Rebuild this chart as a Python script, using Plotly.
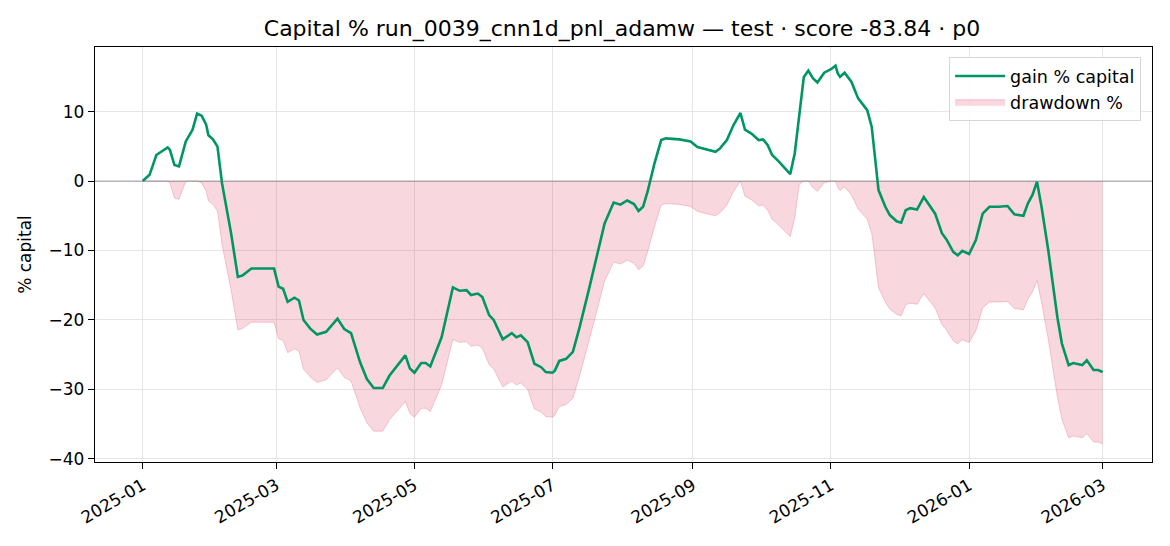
import numpy as np
import pandas as pd
import plotly.graph_objects as go

# ---- data ----
dates = [
    "2025-01-01", "2025-01-04", "2025-01-07", "2025-01-09", "2025-01-12", "2025-01-13",
    "2025-01-15", "2025-01-17", "2025-01-20", "2025-01-23", "2025-01-25", "2025-01-27",
    "2025-01-29", "2025-01-30", "2025-02-01", "2025-02-03", "2025-02-05", "2025-02-09",
    "2025-02-12", "2025-02-14", "2025-02-18", "2025-02-23", "2025-02-28", "2025-03-02",
    "2025-03-04", "2025-03-06", "2025-03-09", "2025-03-11", "2025-03-13", "2025-03-16",
    "2025-03-19", "2025-03-23", "2025-03-28", "2025-03-31", "2025-04-03", "2025-04-07",
    "2025-04-10", "2025-04-13", "2025-04-17", "2025-04-20", "2025-04-23", "2025-04-27",
    "2025-04-29", "2025-05-01", "2025-05-04", "2025-05-06", "2025-05-08", "2025-05-13",
    "2025-05-18", "2025-05-21", "2025-05-24", "2025-05-26", "2025-05-29", "2025-05-31",
    "2025-06-03", "2025-06-05", "2025-06-09", "2025-06-13", "2025-06-15", "2025-06-17",
    "2025-06-20", "2025-06-23", "2025-06-26", "2025-06-28", "2025-07-01", "2025-07-02",
    "2025-07-04", "2025-07-07", "2025-07-10", "2025-07-13", "2025-07-17", "2025-07-21",
    "2025-07-24", "2025-07-28", "2025-07-31", "2025-08-03", "2025-08-06", "2025-08-08",
    "2025-08-10", "2025-08-12", "2025-08-15", "2025-08-18", "2025-08-20", "2025-08-26",
    "2025-08-31", "2025-09-03", "2025-09-07", "2025-09-11", "2025-09-13", "2025-09-16",
    "2025-09-19", "2025-09-22", "2025-09-24", "2025-09-27", "2025-09-30", "2025-10-02",
    "2025-10-04", "2025-10-06", "2025-10-09", "2025-10-12", "2025-10-14", "2025-10-16",
    "2025-10-18", "2025-10-20", "2025-10-22", "2025-10-24", "2025-10-26", "2025-10-29",
    "2025-11-01", "2025-11-03", "2025-11-04", "2025-11-05", "2025-11-07", "2025-11-10",
    "2025-11-13", "2025-11-17", "2025-11-19", "2025-11-20", "2025-11-22", "2025-11-25",
    "2025-11-27", "2025-11-30", "2025-12-02", "2025-12-04", "2025-12-06", "2025-12-09",
    "2025-12-12", "2025-12-17", "2025-12-20", "2025-12-22", "2025-12-25", "2025-12-27",
    "2025-12-29", "2026-01-01", "2026-01-04", "2026-01-07", "2026-01-10", "2026-01-14",
    "2026-01-18", "2026-01-21", "2026-01-23", "2026-01-25", "2026-01-27", "2026-01-29",
    "2026-01-31", "2026-02-02", "2026-02-05", "2026-02-09", "2026-02-11", "2026-02-14",
    "2026-02-16", "2026-02-20", "2026-02-22", "2026-02-25", "2026-02-27", "2026-03-01",
]

gain_pct = [
    0.0, 0.9, 3.75, 4.2, 4.85, 4.5,
    2.3, 2.1, 5.7, 7.4, 9.7, 9.4,
    8.1, 6.6, 6.0, 4.95, -0.3, -7.5,
    -13.8, -13.6, -12.6, -12.6, -12.6, -15.2,
    -15.5, -17.4, -16.8, -17.2, -20.0, -21.25,
    -22.1, -21.7, -19.8, -21.3, -21.9, -26.1,
    -28.5, -29.8, -29.8, -28.0, -26.7, -25.1,
    -27.0, -27.6, -26.2, -26.2, -26.7, -22.5,
    -15.3, -15.8, -15.7, -16.4, -16.2, -16.7,
    -19.3, -20.0, -22.8, -21.9, -22.5, -22.2,
    -23.2, -26.3, -26.8, -27.5, -27.6, -27.3,
    -25.9, -25.6, -24.6, -21.0, -15.7, -10.0,
    -6.1, -3.1, -3.4, -2.8, -3.3, -4.3,
    -3.7, -1.5, 2.5, 5.9, 6.15, 6.0,
    5.7, 4.9, 4.6, 4.2, 4.7, 5.9,
    8.1, 9.8, 7.4, 6.8, 5.9, 6.0,
    5.2, 3.75, 2.8, 1.8, 1.0, 4.0,
    9.3, 15.0, 15.9, 14.8, 14.2, 15.6,
    16.1, 16.6, 15.5, 15.0, 15.6, 14.3,
    11.9, 10.2, 7.8, 4.95, -1.3, -3.7,
    -4.9, -5.8, -6.0, -4.2, -3.9, -4.1,
    -2.3, -4.7, -7.5, -8.4, -10.2, -10.7,
    -10.05, -10.5, -8.5, -4.7, -3.7, -3.7,
    -3.6, -4.8, -4.9, -5.0, -3.2, -2.0,
    -0.1, -3.7, -10.0, -19.6, -23.4, -26.5,
    -26.2, -26.5, -25.8, -27.2, -27.2, -27.5,
]

y_ticks = [-40, -30, -20, -10, 0, 10]

title_text = "Capital % run_0039_cnn1d_pnl_adamw — test · score -83.84 · p0"

# drawdown % relative to running peak of capital
capital = 1.0 + np.array(gain_pct) / 100.0
peak = np.maximum.accumulate(capital)
drawdown_pct = (capital / peak - 1.0) * 100.0

x = pd.to_datetime(dates)

GREEN = "rgb(0,150,100)"
FONT = "DejaVu Sans"
W, H = 1162, 538   # page adds an 8px body margin

fig = go.Figure()

fig.add_trace(go.Scatter(
    x=x, y=drawdown_pct, mode="lines", name="drawdown %",
    line=dict(color="rgba(225,80,110,0.28)", width=1),
    fill="tozeroy", fillcolor="rgba(220,20,60,0.17)",
    hoverinfo="skip",
))

fig.add_trace(go.Scatter(
    x=x, y=gain_pct, mode="lines", name="gain % capital",
    line=dict(color=GREEN, width=2.6),
))

# zero reference line
fig.add_shape(type="line", xref="paper", x0=0, x1=1, yref="y", y0=0, y1=0,
              line=dict(color="rgba(110,110,130,0.55)", width=1.2), layer="above")

fig.update_layout(legend_traceorder="reversed")

fig.update_layout(
    width=W, height=H,
    margin=dict(l=87, r=18, t=39, b=84, autoexpand=False),
    paper_bgcolor="white", plot_bgcolor="white",
    font=dict(family=FONT, size=17, color="black"),
    title=dict(text=title_text, x=614 / W, xanchor="center",
               y=1 - 20 / H, yanchor="middle",
               font=dict(family=FONT, size=22, color="black")),
    showlegend=True,
    legend=dict(
        x=0.9895, y=0.976, xanchor="right", yanchor="top",
        bgcolor="rgba(255,255,255,0.85)", bordercolor="rgb(215,215,215)", borderwidth=1.2,
        font=dict(family=FONT, size=17.5, color="black"),
        tracegroupgap=4, itemwidth=50,
    ),
    xaxis=dict(
        range=[pd.Timestamp("2025-01-01") - pd.Timedelta(days=21.1),
               pd.Timestamp("2025-01-01") + pd.Timedelta(days=445.8)],
        tick0="2025-01-01", dtick="M2", tickformat="%Y-%m",
        tickangle=-30, ticks="outside", ticklen=6, tickwidth=1.2, tickcolor="black",
        showline=True, linecolor="black", linewidth=1.3, mirror=True,
        showgrid=True, gridcolor="rgb(230,230,230)", gridwidth=1,
        zeroline=False, automargin=False,
        tickfont=dict(family=FONT, size=17, color="black"),
    ),
    yaxis=dict(
        range=[-40.45, 19.3],
        tickvals=y_ticks, ticktext=["\u2212" + str(abs(v)) if v < 0 else str(v) for v in y_ticks],
        ticks="outside", ticklen=6, tickwidth=1.2, tickcolor="black",
        showline=True, linecolor="black", linewidth=1.3, mirror=True,
        showgrid=True, gridcolor="rgb(230,230,230)", gridwidth=1,
        zeroline=False, automargin=False,
        tickfont=dict(family=FONT, size=17, color="black"),
        title=dict(text="% capital", font=dict(family=FONT, size=17, color="black"), standoff=12),
    ),
)

fig.write_html("out.html", config={"displayModeBar": False})
